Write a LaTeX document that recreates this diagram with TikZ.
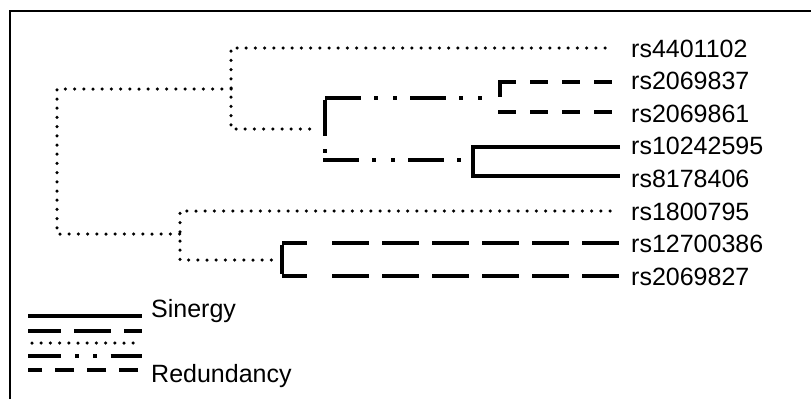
\documentclass[tikz,border=0pt]{standalone}
\usepackage{fontspec}
\setmainfont{Liberation Sans}
\begin{document}
\begin{tikzpicture}[x=1pt,y=-1pt,
  lbl/.style={anchor=base west,inner sep=0pt,font=\fontsize{25}{30}\selectfont},
  dotline/.style={line width=3.5pt,line cap=round,dash pattern=on 0pt off 9.2pt},
  synline/.style={line width=4pt},
  dashline/.style={line width=4pt,dash pattern=on 18pt off 14pt},
  longdash/.style={line width=4pt,dash pattern=on 25pt off 25pt on 37pt off 13pt on 37pt off 13pt on 37pt off 13pt on 37pt off 13pt on 37pt off 13pt on 37pt off 13pt},
  dashdot/.style={line width=4pt,dash pattern=on 36pt off 13pt on 3.5pt off 15.5pt on 3.5pt off 13.5pt},
  framebox/.style={line width=2pt}]

\useasboundingbox (0,0) rectangle (811,399);

% frame
\draw[framebox] (9.5,399) -- (9.5,11) -- (811,11);

% leaf labels
\node[lbl] (l1) at (631,57.0) {rs4401102};
\node[lbl] (l2) at (631,89.6) {rs2069837};
\node[lbl] (l3) at (631,122.2) {rs2069861};
\node[lbl] (l4) at (631,154.8) {rs10242595};
\node[lbl] (l5) at (631,187.4) {rs8178406};
\node[lbl] (l6) at (631,220.0) {rs1800795};
\node[lbl] (l7) at (631,252.6) {rs12700386};
\node[lbl] (l8) at (631,285.2) {rs2069827};

% leaf ends
\coordinate (e1) at (605,48);
\coordinate (e2) at (614,82);
\coordinate (e3) at (614,112);
\coordinate (e4) at (620,147);
\coordinate (e5) at (620,176);
\coordinate (e6) at (610,211);
\coordinate (e7) at (620,243);
\coordinate (e8) at (620,276);

% merge points
\coordinate (rootT) at (57,89);
\coordinate (rootB) at (57,234);
\coordinate (aT) at (231,48);
\coordinate (aM) at (231,89);
\coordinate (aB) at (231,129);
\coordinate (aEnd) at (317,129);
\coordinate (bT) at (325,98);
\coordinate (bB) at (325,160);
\coordinate (bTEnd) at (490,98);
\coordinate (bBEnd) at (468,160);
\coordinate (cT) at (500,82);
\coordinate (cM) at (500,97);
\coordinate (cB) at (500,112);
\coordinate (dT) at (473,147);
\coordinate (dB) at (473,176);
\coordinate (eT) at (180,211);
\coordinate (eM) at (180,234);
\coordinate (eB) at (180,260);
\coordinate (eEnd) at (275,260);
\coordinate (fT) at (282,243);
\coordinate (fB) at (282,276);

% dotted branches
\draw[dotline] (aM) -- (rootT) -- (rootB) -- (eM);
\draw[dotline] (e1) -- (aT) -- (aB) -- (aEnd);
\draw[dotline] (e6) -- (eT) -- (eB) -- (eEnd);

% dash-dot bracket
\draw[dashdot] (bT) -- (bTEnd);
\draw[dashdot] ([yshift=-2pt]bT) -- (bB);
\draw[dashdot] ([xshift=-2pt]bB) -- (bBEnd);

% dashed bracket
\draw[synline] ([yshift=-2pt]cT) -- (cM);
\draw[dashline] ([xshift=-2pt]cT) -- (e2);
\draw[dashline] ([xshift=-2pt]cB) -- (e3);

% solid bracket
\draw[synline] (e4) -- (dT) -- (dB) -- (e5);

% long dashed bracket
\draw[synline] ([yshift=-2pt]fT) -- ([yshift=2pt]fB);
\draw[longdash] (fT) -- (e7);
\draw[longdash] (fB) -- (e8);

% legend
\coordinate (g1a) at (28,316); \coordinate (g1b) at (142,316);
\coordinate (g2a) at (28,331); \coordinate (g2b) at (142,331);
\coordinate (g3a) at (32,343); \coordinate (g3b) at (142,343);
\coordinate (g4a) at (28,356); \coordinate (g4b) at (142,356);
\coordinate (g5a) at (138,370); \coordinate (g5b) at (28,370);
\draw[synline] (g1a) -- (g1b);
\draw[line width=4pt,dash pattern=on 33pt off 13pt on 37pt off 13pt] (g2a) -- (g2b);
\draw[dotline] (g3a) -- (g3b);
\draw[line width=4pt,dash pattern=on 33pt off 14pt on 3.5pt off 14.5pt on 3.5pt off 14pt] (g4a) -- (g4b);
\draw[line width=4pt,dash pattern=on 19pt off 13pt] (g5a) -- (g5b);
\node[lbl] (syn) at (151,317) {Sinergy};
\node[lbl] (red) at (151,382) {Redundancy};
\end{tikzpicture}
\end{document}
